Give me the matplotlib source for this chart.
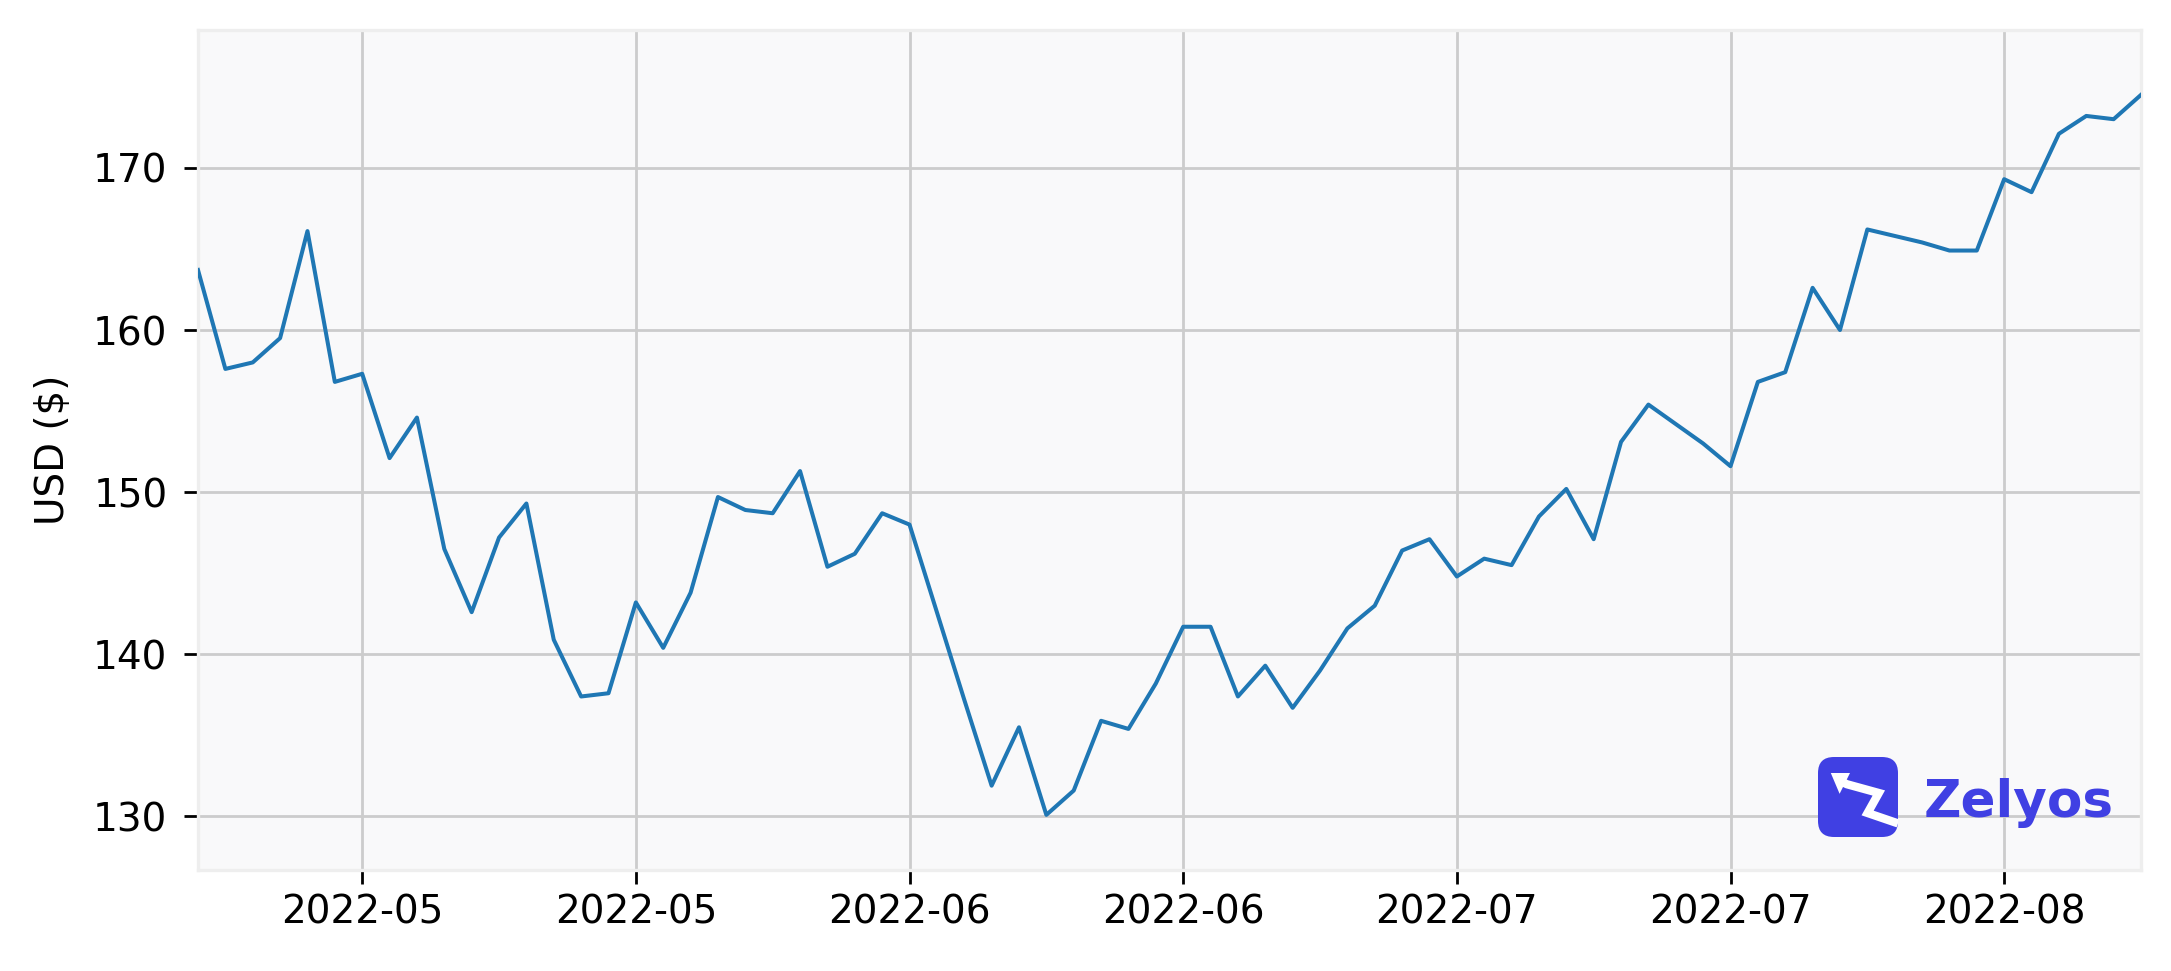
#!/usr/bin/env python3
"""Closing price line chart with a Zelyos watermark, written to out.png."""
import matplotlib
matplotlib.use("Agg")
import matplotlib.pyplot as plt
import numpy as np
import pandas as pd
from matplotlib.patches import FancyBboxPatch, Polygon

# closing prices, one per business day starting 2022-04-29
prices = [163.7, 157.6, 158.0, 159.5, 166.1, 156.8, 157.3, 152.1, 154.6, 146.5,
          142.6, 147.2, 149.3, 140.9, 137.4, 137.6, 143.2, 140.4, 143.8, 149.7,
          148.9, 148.7, 151.3, 145.4, 146.2, 148.7, 148.0, 142.6, 137.2, 131.9,
          135.5, 130.1, 131.6, 135.9, 135.4, 138.2, 141.7, 141.7, 137.4, 139.3,
          136.7, 139.0, 141.6, 143.0, 146.4, 147.1, 144.8, 145.9, 145.5, 148.5,
          150.2, 147.1, 153.1, 155.4, 154.2, 153.0, 151.6, 156.8, 157.4, 162.6,
          160.0, 166.2, 165.8, 165.4, 164.9, 164.9, 169.3, 168.5, 172.1, 173.2,
          173.0, 174.5]
start_date = "2022-04-29"
tick_every = 10
first_tick = 6
y_limits = (126.7, 178.5)
y_ticks = [130, 140, 150, 160, 170]
y_label = "USD ($)"
brand = "Zelyos"

dates = pd.bdate_range(start_date, periods=len(prices))
x = np.arange(len(prices))
tick_idx = list(range(first_tick, len(prices), tick_every))
tick_labels = [dates[i].strftime("%Y-%m") for i in tick_idx]

W, H, DPI = 2171, 971, 200
fig = plt.figure(figsize=(W / DPI, H / DPI), dpi=DPI)
ax = fig.add_axes([198 / W, 1 - 870 / H, 1943 / W, 840 / H])
ax.set_facecolor("#f9f9fa")
ax.plot(x, prices, color="#1f77b4", lw=1.45, zorder=3)

ax.set_xlim(x[0], x[-1])
ax.set_ylim(*y_limits)
ax.set_xticks(tick_idx)
ax.set_xticklabels(tick_labels)
ax.set_yticks(y_ticks)
ax.grid(True, color="#cccccc", lw=1.0)
ax.set_axisbelow(True)
for s in ax.spines.values():
    s.set_color("#eeeeee")
    s.set_linewidth(1.2)
ax.tick_params(axis="both", labelsize=14, length=5, width=1, color="black")
ax.tick_params(axis="y", pad=6)
ax.tick_params(axis="x", pad=3.5)
ax.set_ylabel(y_label, fontsize=14)
ax.yaxis.set_label_coords(-0.065, 0.5)

# watermark: rounded blue icon with a white zigzag arrow, then the name
blue = "#4040e3"
lg = fig.add_axes([1818 / W, 1 - 837 / H, 80 / W, 80 / H])
lg.set_xlim(0, 1)
lg.set_ylim(0, 1)
lg.axis("off")
lg.add_patch(FancyBboxPatch((0.0, 0.0), 1.0, 1.0,
                            boxstyle="round,pad=0,rounding_size=0.2",
                            fc=blue, ec="none", transform=lg.transAxes))
zx = [1.0, 0.62, 0.76, 0.36, 0.28]
zy = [0.17, 0.30, 0.55, 0.66, 0.70]
lg.plot(zx, zy, color="white", lw=3.0, solid_joinstyle="miter",
        solid_capstyle="butt")
lg.add_patch(Polygon([[0.16, 0.80], [0.40, 0.80], [0.27, 0.54]],
                     closed=True, fc="white", ec="none"))
fig.text(1924 / W, 1 - 817 / H, brand, fontsize=18.6, fontweight="bold",
         color=blue, ha="left", va="baseline")

fig.savefig("out.png", dpi=DPI)
